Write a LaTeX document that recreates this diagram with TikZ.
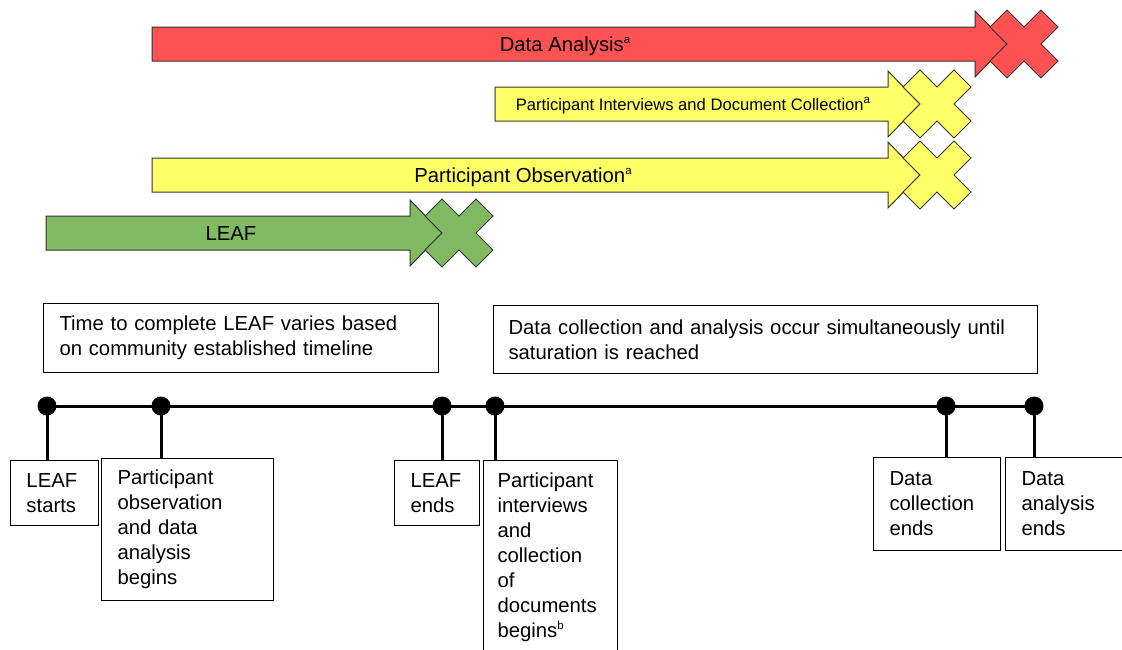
\documentclass[tikz,border=0pt]{standalone}
\usepackage{fontspec}
\setmainfont{Liberation Sans}
\usetikzlibrary{positioning,calc}
\definecolor{barred}{RGB}{255,82,82}
\definecolor{baryellow}{RGB}{255,255,102}
\definecolor{bargreen}{RGB}{130,186,100}
\newcommand{\supnote}[1]{\raisebox{0.4em}{\fontsize{11.5}{12}\selectfont #1}}
\tikzset{
  phasebar/.style={draw=black!80, line width=1pt, line join=miter},
  phaselabel/.style={inner sep=0pt, text height=14.5pt, text depth=0pt, font=\fontsize{20.3}{25}\selectfont},
  smalllabel/.style={inner sep=0pt, text height=12pt, text depth=0pt, font=\fontsize{16.6}{20}\selectfont},
  eventdot/.style={circle, fill=black, inner sep=0pt, minimum size=19pt},
  tickline/.style={line width=3pt},
  eventbox/.style={draw, line width=1pt, anchor=north west, align=left, inner xsep=16pt, inner ysep=0pt, font=\fontsize{20.3}{25}\selectfont},
  notebox/.style={draw, line width=1pt, anchor=north west, align=left, inner xsep=16pt, inner ysep=0pt, font=\fontsize{20.3}{25}\selectfont},
  stopcross/.pic={
    \path[pic actions] (0,-17) -- (17,-34) -- (34,-17) -- (17,0) -- (34,17) -- (17,34) -- (0,17)
      -- (-17,34) -- (-34,17) -- (-17,0) -- (-34,-17) -- (-17,-34) -- cycle;
  }
}
\begin{document}
\begin{tikzpicture}[x=1pt, y=-1pt]
  \useasboundingbox (0,0) rectangle (1122,649);
  \clip (0,0) rectangle (1122,649);

  % phase bars
  \draw[phasebar, fill=barred] (152,27) -- (975,27) -- (975,11) -- (1007,44) -- (975,77) -- (975,61) -- (152,61) -- cycle;
  \pic[phasebar, fill=barred] at (1024,44) {stopcross};
  \node[phaselabel] (analysis) at (565,44) {Data Analysis\supnote{a}};

  \draw[phasebar, fill=baryellow] (495,87) -- (888,87) -- (888,71) -- (920,104) -- (888,137) -- (888,121) -- (495,121) -- cycle;
  \pic[phasebar, fill=baryellow] at (937,104) {stopcross};
  \node[smalllabel] (interviews) at (693,104) {Participant Interviews and Document Collection\supnote{a}};

  \draw[phasebar, fill=baryellow] (152,158) -- (888,158) -- (888,142) -- (920,175) -- (888,208) -- (888,192) -- (152,192) -- cycle;
  \pic[phasebar, fill=baryellow] at (937,175) {stopcross};
  \node[phaselabel] (observation) at (523,175) {Participant Observation\supnote{a}};

  \draw[phasebar, fill=bargreen] (46,216) -- (410,216) -- (410,200) -- (442,233) -- (410,266) -- (410,250) -- (46,250) -- cycle;
  \pic[phasebar, fill=bargreen] at (459,233) {stopcross};
  \node[phaselabel] (leaf) at (231,233) {LEAF};

  % notes above the timeline
  \node[notebox, text width=363pt, minimum height=69pt] (note1) at (43,303)
    {Time to complete LEAF varies based\\on community established timeline};
  \node[notebox, inner xsep=15pt, text width=514pt, minimum height=68pt] (note2) at (493,305)
    {Data collection and analysis occur simultaneously until\\saturation is reached};

  % timeline
  \node[eventdot] (ev1) at (47,406) {};
  \node[eventdot] (ev2) at (161,406) {};
  \node[eventdot] (ev3) at (442,406) {};
  \node[eventdot] (ev4) at (495,406) {};
  \node[eventdot] (ev5) at (946,406) {};
  \node[eventdot] (ev6) at (1034,406) {};
  \draw[tickline] (ev1.center) -- (ev6.center);

  \node[eventbox, text width=56pt, minimum height=65pt] (b1) at (10,460) {LEAF\\starts};
  \node[eventbox, text width=140pt, minimum height=142pt] (b2) at (101,458)
    {Participant\\observation\\and data\\analysis\\begins};
  \node[eventbox, text width=53pt, minimum height=65pt] (b3) at (394,460) {LEAF\\ends};
  \node[eventbox, inner xsep=14pt, text width=106pt, minimum height=193pt] (b4) at (483,460)
    {Participant\\interviews\\and\\collection\\of\\documents\\begins\supnote{b}};
  \node[eventbox, text width=95pt, minimum height=93pt] (b5) at (873,457) {Data\\collection\\ends};
  \node[eventbox, text width=93pt, minimum height=93pt] (b6) at (1005,457) {Data\\analysis\\ends};

  \draw[tickline] (ev1.center) -- (ev1.center |- b1.north);
  \draw[tickline] (ev2.center) -- (ev2.center |- b2.north);
  \draw[tickline] (ev3.center) -- (ev3.center |- b3.north);
  \draw[tickline] (ev4.center) -- (ev4.center |- b4.north);
  \draw[tickline] (ev5.center) -- (ev5.center |- b5.north);
  \draw[tickline] (ev6.center) -- (ev6.center |- b6.north);
\end{tikzpicture}
\end{document}
